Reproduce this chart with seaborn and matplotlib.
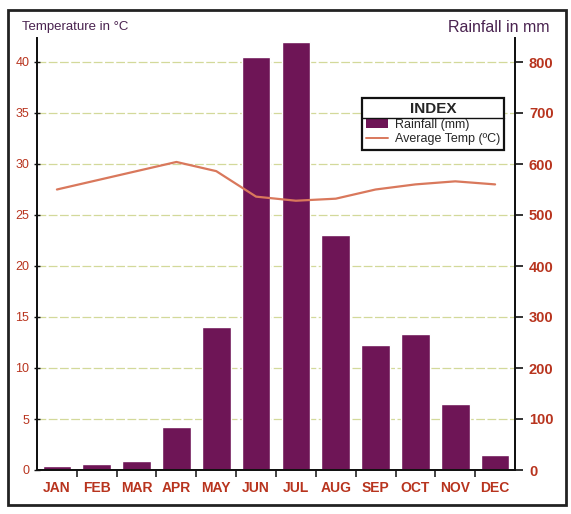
import matplotlib
matplotlib.use("Agg")
import matplotlib.pyplot as plt
import seaborn as sns
import pandas as pd
import numpy as np
from matplotlib.patches import Rectangle, Patch
from matplotlib.lines import Line2D

# Monthly climate data
months = ["JAN", "FEB", "MAR", "APR", "MAY", "JUN",
          "JUL", "AUG", "SEP", "OCT", "NOV", "DEC"]
rainfall_mm = [8, 12, 18, 85, 280, 810, 840, 460, 245, 267, 130, 30]
avg_temp_c = [27.5, 28.4, 29.3, 30.2, 29.3, 26.8, 26.4, 26.6, 27.5, 28.0, 28.3, 28.0]

rain_ticks = list(range(0, 801, 100))
temp_ticks = list(range(0, 41, 5))

BAR = "#6e1556"
LINE = "#d9785c"
TICK_RED = "#b8341e"
TITLE_PURPLE = "#4a2350"
GRID = "#d3d99a"

sns.set_theme(style="white")
plt.rcParams["font.family"] = ["Liberation Sans", "DejaVu Sans"]

W, H = 571, 514
fig = plt.figure(figsize=(W / 100, H / 100), dpi=100)
RAIN_TOP = 848
TEMP_TOP = RAIN_TOP / 20
L, R, B = 37, 515, 470
T = B - 408 * TEMP_TOP / 40
ax = fig.add_axes([L / W, 1 - B / H, (R - L) / W, (B - T) / H])

df = pd.DataFrame({"month": months, "rain": rainfall_mm, "temp": avg_temp_c})

# Rainfall bars (right-hand scale)
sns.barplot(data=df, x="month", y="rain", order=months, color=BAR,
            saturation=1, width=0.72, ax=ax, zorder=2)
ax.set_ylim(0, RAIN_TOP)
ax.set_xlim(-0.5, 11.5)
ax.set_xlabel("")
ax.set_ylabel("")
ax.set_axisbelow(True)
ax.set_yticks(rain_ticks)
ax.yaxis.grid(True, color=GRID, lw=0.9, ls=(0, (7, 2)))
ax.xaxis.grid(False)

# Average temperature line (left-hand scale)
ax2 = ax.twinx()
sns.lineplot(data=df, x="month", y="temp", sort=False, color=LINE,
             lw=1.6, ax=ax2)
ax2.set_ylim(0, TEMP_TOP)
ax2.set_ylabel("")
ax2.set_yticks(temp_ticks)

# Swap sides: rainfall on the right, temperature on the left
ax.yaxis.tick_right()
ax2.yaxis.tick_left()

for a in (ax, ax2):
    a.spines["top"].set_visible(False)
    for s in ("left", "right", "bottom"):
        a.spines[s].set_color("#111111")
        a.spines[s].set_linewidth(1.3)

ax.tick_params(axis="y", which="major", right=True, left=False, direction="out",
               length=6, width=1.2, color="#111111", labelcolor=TICK_RED,
               labelsize=10.5, pad=4)
for lbl in ax.get_yticklabels():
    lbl.set_fontweight("bold")
ax2.tick_params(axis="y", which="major", left=True, right=False, direction="inout",
                length=5, width=1, color="#111111", labelcolor=TICK_RED,
                labelsize=9, pad=3)

# Month labels with separators between categories
ax.set_xticks(range(len(months)))
ax.set_xticklabels(months)
ax.set_xticks(np.arange(0.5, 11.5, 1), minor=True)
ax.tick_params(axis="x", which="major", length=0, pad=8, labelsize=10,
               labelcolor=TICK_RED)
ax.tick_params(axis="x", which="minor", bottom=True, length=5, width=1.1,
               direction="out", color="#111111")
for lbl in ax.get_xticklabels():
    lbl.set_fontweight("bold")

# Axis captions
fig.text(22 / W, 1 - 27 / H, "Temperature in °C", color=TITLE_PURPLE,
         fontsize=9.5, va="center", ha="left")
fig.text(549 / W, 1 - 28 / H, "Rainfall in mm", color=TITLE_PURPLE,
         fontsize=11.5, va="center", ha="right")

# Legend
handles = [Patch(facecolor=BAR, edgecolor="none"),
           Line2D([], [], color=LINE, lw=1.4)]
leg = ax2.legend(handles, ["Rainfall (mm)", "Average Temp (ºC)"],
                 title="INDEX", loc="upper left",
                 bbox_to_anchor=(0.666, 0.875), frameon=True, fancybox=False,
                 fontsize=9, title_fontproperties={"weight": "bold", "size": 11},
                 handlelength=1.8, handleheight=0.7, borderpad=0.35,
                 labelspacing=0.2, handletextpad=0.5)
leg.get_frame().set_edgecolor("#111111")
leg.get_frame().set_linewidth(1.6)
leg.get_frame().set_alpha(1)
leg.set_zorder(10)

# Rule under the legend title
fig.canvas.draw()
inv = fig.transFigure.inverted()
fb = leg.get_frame().get_window_extent()
tb = leg.get_title().get_window_extent()
y_rule = tb.y0 - 1.5
(x0, yr), (x1, _) = inv.transform([(fb.x0, y_rule), (fb.x1, y_rule)])
fig.add_artist(Line2D([x0, x1], [yr, yr], transform=fig.transFigure,
                      color="#111111", lw=1.0, zorder=11))

# Outer frame
fig.add_artist(Rectangle((8 / W, 1 - 505 / H), (566 - 8) / W, (505 - 10) / H,
                         transform=fig.transFigure, fill=False, lw=2,
                         ec="#222222"))

fig.savefig("out.png", dpi=100)
